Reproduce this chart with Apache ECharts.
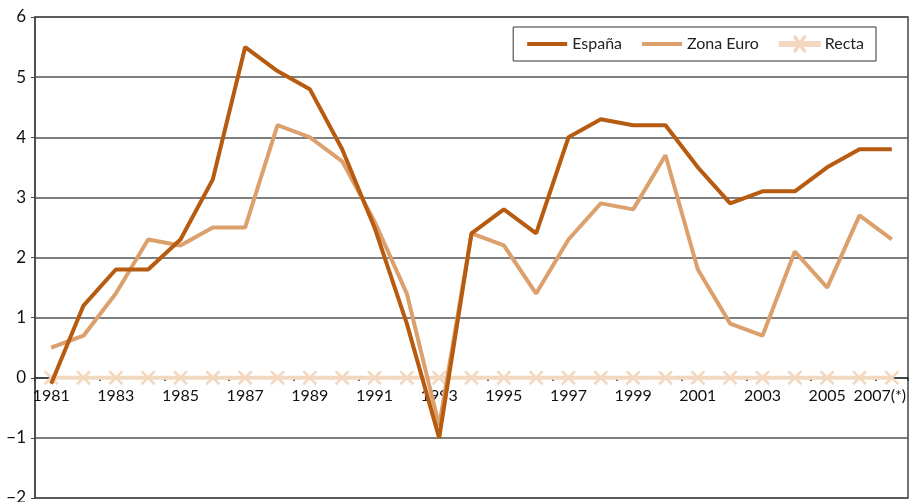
<!DOCTYPE html>
<html>
<head>
<meta charset="utf-8">
<script src="https://cdn.jsdelivr.net/npm/echarts@6/dist/echarts.min.js"></script>
<style>
  html, body { margin: 0; padding: 0; background: #fff; }
  #chart { width: 913px; height: 502px; }
</style>
</head>
<body>
<div id="chart"></div>
<script>
const years = ['1981', '1982', '1983', '1984', '1985', '1986', '1987', '1988', '1989', '1990',
  '1991', '1992', '1993', '1994', '1995', '1996', '1997', '1998', '1999', '2000',
  '2001', '2002', '2003', '2004', '2005', '2006', '2007(*)']

const espana = [-0.1, 1.2, 1.8, 1.8, 2.3, 3.3, 5.5, 5.1, 4.8, 3.8,
  2.5, 0.9, -1.0, 2.4, 2.8, 2.4, 4.0, 4.3, 4.2, 4.2,
  3.5, 2.9, 3.1, 3.1, 3.5, 3.8, 3.8]

const zonaEuro = [0.5, 0.7, 1.4, 2.3, 2.2, 2.5, 2.5, 4.2, 4.0, 3.6,
  2.6, 1.4, -0.8, 2.4, 2.2, 1.4, 2.3, 2.9, 2.8, 3.7,
  1.8, 0.9, 0.7, 2.1, 1.5, 2.7, 2.3]

const recta = years.map(() => 0)

const font = 'Lato, "DejaVu Sans", sans-serif'

// legend icons: plain line, and line with a cross for Recta
const lineIcon = 'path://M0,0 L0,0 M40,16 L40,16 M0,6 L40,6 L40,10 L0,10 Z'
const crossIcon = 'path://M0,0 L0,0 M40,16 L40,16 M0,6 L40,6 L40,10 L0,10 Z ' +
  'M14.5,1 L15.7,0.2 L25.5,15 L24.3,15.8 Z M24.3,0.2 L25.5,1 L15.7,15.8 L14.5,15 Z'

// last label is pushed left so it stays inside the frame
const categoryData = years.map((y, i) =>
  i === years.length - 1 ? { value: y, textStyle: { padding: [0, 24, 0, 0] } } : y)

const chart = echarts.init(document.getElementById('chart'), null, { renderer: 'canvas' })

chart.setOption({
  animation: false,
  textStyle: { fontFamily: font },
  grid: {
    left: 35, right: 5, top: 17, bottom: 4,
    outerBoundsMode: 'none',
    containLabel: false,
    show: true,
    borderColor: '#444',
    borderWidth: 1.5
  },
  legend: {
    top: 27,
    right: 37,
    itemWidth: 40,
    itemHeight: 16,
    itemGap: 20,
    padding: [8, 12, 8, 14],
    borderColor: '#333',
    borderWidth: 1,
    textStyle: { fontSize: 16, color: '#222', fontFamily: font },
    data: [
      { name: 'España', icon: lineIcon },
      { name: 'Zona Euro', icon: lineIcon },
      { name: 'Recta', icon: crossIcon }
    ]
  },
  xAxis: {
    type: 'category',
    data: categoryData,
    boundaryGap: true,
    position: 'bottom',
    // axis sits on the zero line (two units above the bottom of the plot)
    offset: -120,
    axisLine: { onZero: false, lineStyle: { color: '#333', width: 1.5 } },
    axisTick: { show: true, length: 3, lineStyle: { color: '#333', width: 1.5 } },
    axisLabel: {
      interval: 1,
      margin: 10,
      fontSize: 16,
      color: '#111',
      fontFamily: font
    }
  },
  yAxis: {
    type: 'value',
    min: -2,
    max: 6,
    interval: 1,
    axisLine: { show: true, lineStyle: { color: '#444', width: 1.5 } },
    axisTick: { show: true, length: 4, lineStyle: { color: '#444' } },
    axisLabel: {
      fontSize: 17,
      color: '#111',
      margin: 9,
      fontFamily: font,
      formatter: v => (v < 0 ? '\u2212' + Math.abs(v) : String(v))
    },
    splitLine: { show: true, lineStyle: { color: '#555', width: 1.5 } }
  },
  series: [
    {
      name: 'Recta',
      type: 'line',
      data: recta,
      symbol: 'path://M0,0 L10,10 M10,0 L0,10',
      symbolSize: 13,
      showSymbol: true,
      lineStyle: { color: '#f3d8c0', width: 4 },
      itemStyle: { color: '#f3d8c0', borderColor: '#f3d8c0', borderWidth: 2.5 },
      z: 2
    },
    {
      name: 'Zona Euro',
      type: 'line',
      data: zonaEuro,
      symbol: 'none',
      lineStyle: { color: '#dba06c', width: 4 },
      itemStyle: { color: '#dba06c' },
      z: 3
    },
    {
      name: 'España',
      type: 'line',
      data: espana,
      symbol: 'none',
      lineStyle: { color: '#b65b10', width: 4 },
      itemStyle: { color: '#b65b10' },
      z: 4
    }
  ]
})
</script>
</body>
</html>
